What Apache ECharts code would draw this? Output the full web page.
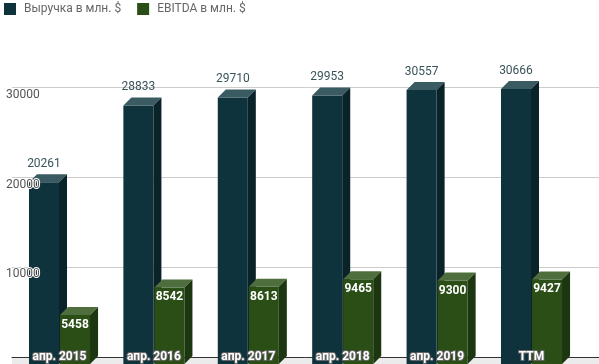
<!DOCTYPE html>
<html><head><meta charset="utf-8">
<script src="https://cdn.jsdelivr.net/npm/echarts@6/dist/echarts.min.js"></script>
<style>html,body{margin:0;padding:0;background:#fff}#c{width:599px;height:364px}</style>
</head><body><div id="c"></div>
<script>
const categories = ['апр. 2015', 'апр. 2016', 'апр. 2017', 'апр. 2018', 'апр. 2019', 'TTM'];
const revenue = [20261, 28833, 29710, 29953, 30557, 30666];
const ebitda = [5458, 8542, 8613, 9465, 9300, 9427];
const seriesNames = ['Выручка в млн. $', 'EBITDA в млн. $'];
const yMin = 0, yMax = 30000, yInterval = 10000;

const FONT = 'Roboto, "Noto Sans", sans-serif';
const palettes = [
  { front: '#0e333d', top: '#3b5b62', side: '#0a2329', label: '#3a545b' },
  { front: '#2a4e16', top: '#4e6e3d', side: '#1b3610', label: '#ffffff' }
];

function makeRender(k) {
  return function (params, api) {
    const idx = api.value(0), val = api.value(1);
    const top = api.coord([idx, val]);
    const base = api.coord([idx, 0]);
    const band = api.size([1, 0])[0];
    const cx = base[0];
    const w = band * 0.318;
    const d = band * 0.085;
    const fx = k === 0 ? cx - 0.5 - w : cx + 0.5;
    const fy = top[1] + d;
    const fb = base[1] + d;
    const p = palettes[k];
    const children = [
      { type: 'rect', shape: { x: fx, y: fy, width: w, height: fb - fy }, style: { fill: p.front } },
      { type: 'polygon', shape: { points: [[fx, fy], [fx + w, fy], [fx + w + d, fy - d], [fx + d, fy - d]] }, style: { fill: p.top } },
      { type: 'polygon', shape: { points: [[fx + w, fy], [fx + w + d, fy - d], [fx + w + d, base[1]], [fx + w, fb]] }, style: { fill: p.side } }
    ];
    if (k === 0) {
      children.push({ type: 'text', style: { text: String(val), x: fx + w / 2, y: top[1] - 4.5, align: 'center', verticalAlign: 'bottom', fill: p.label, font: '12px ' + FONT } });
    } else {
      children.push({ type: 'text', style: { text: String(val), x: fx + w / 2, y: fy + 4, align: 'center', verticalAlign: 'top', fill: p.label, font: 'bold 12px ' + FONT } });
    }
    return { type: 'group', children: children };
  };
}

const chart = echarts.init(document.getElementById('c'), null, { renderer: 'canvas' });
chart.setOption({
  animation: false,
  textStyle: { fontFamily: FONT },
  legend: {
    left: 4, top: 3, padding: 0, itemWidth: 12, itemHeight: 12, itemGap: 16, icon: 'rect',
    textStyle: { color: '#666', fontSize: 12, padding: [0, 0, 0, 3], fontFamily: FONT },
    data: seriesNames
  },
  graphic: [
    { type: 'rect', left: 12, bottom: 0, z: -1, shape: { width: 587, height: 7 }, style: { fill: '#ebebeb' } }
  ],
  grid: [
    { left: 12.3, right: 20.3, top: 87, bottom: 7 },
    { left: 12, right: 0, top: 87, bottom: 7 }
  ],
  xAxis: [
    {
      type: 'category', gridIndex: 0, data: categories, z: 6,
      axisLine: { show: false }, axisTick: { show: false },
      axisLabel: { margin: 1, verticalAlign: 'middle', color: '#fff', fontSize: 12, fontWeight: 'bold', fontFamily: FONT, textBorderColor: '#666', textBorderWidth: 2 }
    },
    {
      type: 'category', gridIndex: 1, data: categories,
      axisLine: { show: true, lineStyle: { color: '#333', width: 1 } },
      axisTick: { show: false }, axisLabel: { show: false }
    }
  ],
  yAxis: [
    {
      type: 'value', gridIndex: 0, min: yMin, max: yMax, interval: yInterval, z: 6,
      splitLine: { show: false }, axisLine: { show: false }, axisTick: { show: false },
      axisLabel: { showMinLabel: false, formatter: v => String(v), align: 'left', margin: 6.3, verticalAlign: 'top', padding: [2, 0, 0, 0], color: '#555', fontSize: 12, fontFamily: FONT, textBorderColor: '#fff', textBorderWidth: 2 }
    },
    {
      type: 'value', gridIndex: 1, min: yMin, max: yMax, interval: yInterval,
      splitLine: { show: true, lineStyle: { color: '#cccccc', width: 1 } },
      axisLine: { show: false }, axisTick: { show: false }, axisLabel: { show: false }
    }
  ],
  series: [
    {
      type: 'custom', name: seriesNames[0], xAxisIndex: 0, yAxisIndex: 0, clip: false, z: 2,
      itemStyle: { color: palettes[0].front },
      renderItem: makeRender(0), encode: { x: 0, y: 1 },
      data: revenue.map((v, i) => [i, v])
    },
    {
      type: 'custom', name: seriesNames[1], xAxisIndex: 0, yAxisIndex: 0, clip: false, z: 3,
      itemStyle: { color: palettes[1].front },
      renderItem: makeRender(1), encode: { x: 0, y: 1 },
      data: ebitda.map((v, i) => [i, v])
    }
  ]
});
</script></body></html>
